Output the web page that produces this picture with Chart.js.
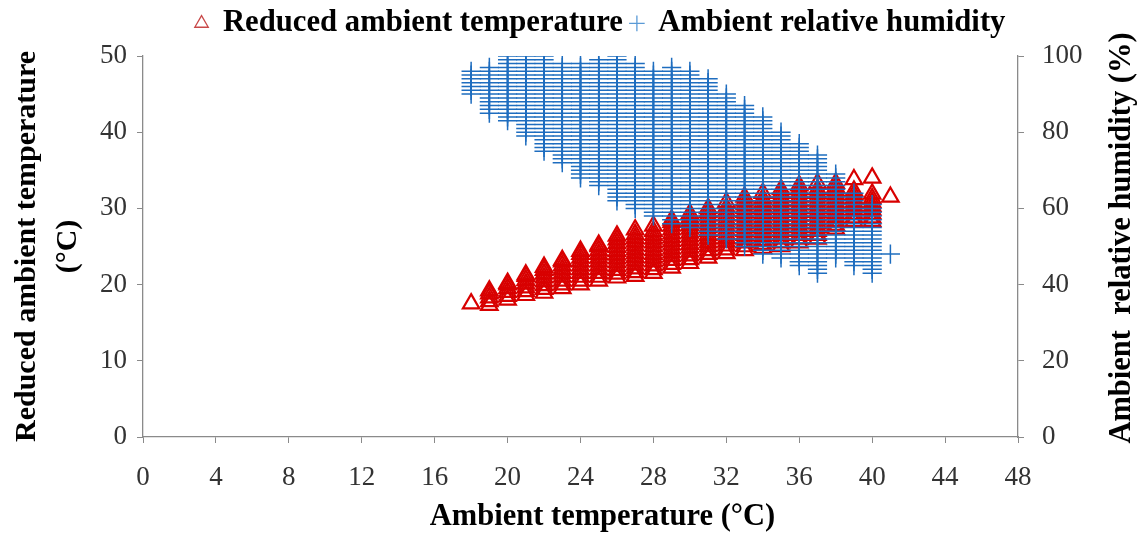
<!DOCTYPE html>
<html>
<head>
<meta charset="utf-8">
<script src="https://cdn.jsdelivr.net/npm/chart.js@4.4.1/dist/chart.umd.min.js"></script>
<style>
  html, body { margin: 0; padding: 0; background: #ffffff; }
  #wrap { position: relative; width: 1141px; height: 535px; }
</style>
</head>
<body>
<div id="wrap"><canvas id="c" width="1141" height="535"></canvas></div>
<script>
// ---------- DATA ----------
const ambientTemps = [18,19,20,21,22,23,24,25,26,27,28,29,30,31,32,33,34,35,36,37,38,39,40,41];

// Reduced ambient temperature (°C), one list per ambient temperature column
const reducedTemp = [
  [17.5],
  [17.3,17.8,18.3,18.8,19.2],
  [18,18.5,19,19.5,20,20.2],
  [18.6,19.1,19.6,20.1,20.6,21.1,21.3],
  [18.9,19.4,19.9,20.4,20.9,21.4,21.9,22.3],
  [19.5,20,20.5,21,21.5,22,22.5,23,23.2],
  [20,20.5,21,21.5,22,22.5,23,23.5,24,24.4],
  [20.5,21,21.5,22,22.5,23,23.5,24,24.5,25,25.2],
  [20.9,21.4,21.9,22.4,22.9,23.4,23.9,24.4,24.9,25.4,25.9,26.4],
  [21.1,21.6,22.1,22.6,23.1,23.6,24.1,24.6,25.1,25.6,26.1,26.6,27.2],
  [21.5,22,22.5,23,23.5,24,24.5,25,25.5,26,26.5,27,27.7],
  [22.2,22.7,23.2,23.7,24.2,24.7,25.2,25.7,26.2,26.7,27.2,27.7,28.2,28.5],
  [22.8,23.3,23.8,24.3,24.8,25.3,25.8,26.3,26.8,27.3,27.8,28.3,28.8,29.3],
  [23.5,24,24.5,25,25.5,26,26.5,27,27.5,28,28.5,29,29.5,30],
  [24.1,24.6,25.1,25.6,26.1,26.6,27.1,27.6,28.1,28.6,29.1,29.6,30.1,30.8],
  [24.5,25,25.5,26,26.5,27,27.5,28,28.5,29,29.5,30,30.5,31,31.5],
  [24.8,25.3,25.8,26.3,26.8,27.3,27.8,28.3,28.8,29.3,29.8,30.3,30.8,31.3,32],
  [25,25.5,26,26.5,27,27.5,28,28.5,29,29.5,30,30.5,31,31.5,32,32.5],
  [25.5,26,26.5,27,27.5,28,28.5,29,29.5,30,30.5,31,31.5,32,32.5,33],
  [26,26.5,27,27.5,28,28.5,29,29.5,30,30.5,31,31.5,32,32.5,33.3],
  [27.3,27.8,28.3,28.8,29.3,29.8,30.3,30.8,31.3,31.8,32.3,32.8,33.3],
  [28.3,28.8,29.3,29.8,30.3,30.8,31.3,31.8,32.3,33.8],
  [28.3,28.8,29.3,29.8,30.3,30.8,31.3,31.9,34],
  [31.5]
];

// Ambient relative humidity (%), one list per ambient temperature column
const relHumidity = [
  [90,91,92,93,94,95,96],
  [85,86,87,88,89,90,91,92,93,94,95,96,97],
  [83,84,85,86,87,88,89,90,91,92,93,94,95,96,97,98,99,100],
  [79,80,81,82,83,84,85,86,87,88,89,90,91,92,93,94,95,96,97,98,99,100],
  [75,76,77,78,79,80,81,82,83,84,85,86,87,88,89,90,91,92,93,94,95,96,97,98,99,100],
  [72,73,74,75,76,77,78,79,80,81,82,83,84,85,86,87,88,89,90,91,92,93,94,95,96,97,98],
  [68,69,70,71,72,73,74,75,76,77,78,79,80,81,82,83,84,85,86,87,88,89,90,91,92,93,94,95,96,97,98],
  [66,67,68,69,70,71,72,73,74,75,76,77,78,79,80,81,82,83,84,85,86,87,88,89,90,91,92,93,94,95,96,97,98,99],
  [62,63,64,65,66,67,68,69,70,71,72,73,74,75,76,77,78,79,80,81,82,83,84,85,86,87,88,89,90,91,92,93,94,95,96,97,98,99,100],
  [60,61,62,63,64,65,66,67,68,69,70,71,72,73,74,75,76,77,78,79,80,81,82,83,84,85,86,87,88,89,90,91,92,93,94,95,96,97,98],
  [58,59,60,61,62,63,64,65,66,67,68,69,70,71,72,73,74,75,76,77,78,79,80,81,82,83,84,85,86,87,88,89,90,91,92,93,94,95,96],
  [56,57,58,59,60,61,62,63,64,65,66,67,68,69,70,71,72,73,74,75,76,77,78,79,80,81,82,83,84,85,86,87,88,89,90,91,92,93,94,95,96,97],
  [55,56,57,58,59,60,61,62,63,64,65,66,67,68,69,70,71,72,73,74,75,76,77,78,79,80,81,82,83,84,85,86,87,88,89,90,91,92,93,94,95,96],
  [53,54,55,56,57,58,59,60,61,62,63,64,65,66,67,68,69,70,71,72,73,74,75,76,77,78,79,80,81,82,83,84,85,86,87,88,89,90,91,92,93,94],
  [52,53,54,55,56,57,58,59,60,61,62,63,64,65,66,67,68,69,70,71,72,73,74,75,76,77,78,79,80,81,82,83,84,85,86,87,88,89,90],
  [50,51,52,53,54,55,56,57,58,59,60,61,62,63,64,65,66,67,68,69,70,71,72,73,74,75,76,77,78,79,80,81,82,83,84,85,86,87],
  [48,49,50,51,52,53,54,55,56,57,58,59,60,61,62,63,64,65,66,67,68,69,70,71,72,73,74,75,76,77,78,79,80,81,82,83,84],
  [47,48,49,50,51,52,53,54,55,56,57,58,59,60,61,62,63,64,65,66,67,68,69,70,71,72,73,74,75,76,77,78,79,80],
  [45,46,47,48,49,50,51,52,53,54,55,56,57,58,59,60,61,62,63,64,65,66,67,68,69,70,71,72,73,74,75,76,77],
  [43,44,45,46,47,48,49,50,51,52,53,54,55,56,57,58,59,60,61,62,63,64,65,66,67,68,69,70,71,72,73,74],
  [47,48,49,50,51,52,53,54,55,56,57,58,59,60,61,62,63,64,65,66,67,68,69],
  [45,46,47,48,49,50,51,52,53,54,55,56,57,58,59,60,61,62,63,64],
  [43,44,45,46,47,48,49,50,51,52,53,54,55,56,57,58,59,60,61],
  [48]
];

const xTicks = [0,4,8,12,16,20,24,28,32,36,40,44,48];
const leftTicks = [0,10,20,30,40,50];
const rightTicks = [0,20,40,60,80,100];

const seriesNames = ['Reduced ambient temperature', 'Ambient relative humidity'];
const xTitle = 'Ambient temperature (°C)';
const leftTitle = ['Reduced ambient temperature', '(°C)'];
const rightTitle = 'Ambient  relative humidity (%)';

// ---------- build points ----------
function toPoints(cols) {
  const pts = [];
  ambientTemps.forEach((x, i) => cols[i].forEach(v => pts.push({x: x, y: v})));
  return pts;
}

const SERIF = "'Liberation Serif', 'Times New Roman', serif";
const RED = '#d80000';
const BLUE = '#1e6dbf';

const titlesPlugin = {
  id: 'extraTitles',
  afterDraw(chart) {
    const ctx = chart.ctx;
    const area = chart.chartArea;
    // right axis title (reads bottom to top)
    ctx.save();
    ctx.translate(1122, 238);
    ctx.rotate(-Math.PI / 2);
    ctx.font = 'bold 30.5px ' + SERIF;
    ctx.fillStyle = '#000';
    ctx.textAlign = 'center';
    ctx.textBaseline = 'middle';
    ctx.fillText(rightTitle, 0, 0);
    ctx.restore();
    // x axis title
    ctx.save();
    ctx.font = 'bold 30.5px ' + SERIF;
    ctx.fillStyle = '#000';
    ctx.textAlign = 'center';
    ctx.textBaseline = 'middle';
    ctx.fillText(xTitle, (area.left + area.right) / 2 + 22, 517);
    ctx.restore();
  }
};

const legendPlugin = {
  id: 'legendTweak',
  beforeInit(chart) {
    const lg = chart.legend;
    if (lg && !lg._patched) {
      const origFit = lg.fit;
      lg.fit = function () { origFit.call(this); this.height = 56; };
      const origDraw = lg.draw;
      lg.draw = function () {
        const ctx = this.ctx;
        ctx.save();
        ctx.translate(30, 0);
        origDraw.call(this);
        ctx.restore();
      };
      lg._patched = true;
    }
  }
};

function setTicks(list) {
  return function (scale) {
    scale.ticks = list.map(v => ({value: v}));
  };
}

new Chart(document.getElementById('c'), {
  type: 'scatter',
  data: {
    datasets: [
      {
        label: seriesNames[0],
        data: toPoints(reducedTemp),
        yAxisID: 'y',
        order: 2,
        pointStyle: 'triangle',
        radius: 9.5,
        borderColor: RED,
        backgroundColor: 'rgba(0,0,0,0)',
        borderWidth: 2.2
      },
      {
        label: seriesNames[1],
        data: toPoints(relHumidity),
        yAxisID: 'y1',
        order: 1,
        pointStyle: 'cross',
        radius: 9.6,
        borderColor: BLUE,
        backgroundColor: BLUE,
        borderWidth: 1.5
      }
    ]
  },
  options: {
    responsive: false,
    animation: false,
    events: [],
    layout: { padding: 0 },
    plugins: {
      tooltip: { enabled: false },
      legend: {
        display: true,
        position: 'top',
        labels: {
          usePointStyle: true,
          boxWidth: 12,
          boxHeight: 11,
          padding: 8,
          color: '#000',
          font: { family: SERIF, size: 30.7, weight: 'bold' },
          generateLabels(chart) {
            return chart.data.datasets.map((ds, i) => ({
              text: ds.label,
              pointStyle: ds.pointStyle,
              fillStyle: 'rgba(0,0,0,0)',
              strokeStyle: i === 0 ? '#c84848' : '#5a9ad6',
              lineWidth: 1.3,
              fontColor: '#000',
              datasetIndex: i,
              hidden: false
            }));
          }
        }
      }
    },
    scales: {
      x: {
        type: 'linear',
        min: 0, max: 48,
        afterBuildTicks: setTicks(xTicks),
        afterFit(s) { s.height = 98; },
        border: { display: true, color: '#8a8a8a', width: 1.3 },
        grid: { drawOnChartArea: false, drawTicks: true, tickLength: 6, color: '#8a8a8a' },
        ticks: { color: '#333', padding: 19, font: { family: SERIF, size: 27 } },
        title: { display: false }
      },
      y: {
        type: 'linear',
        position: 'left',
        min: 0, max: 50,
        afterBuildTicks: setTicks(leftTicks),
        afterFit(s) { s.width = 143; },
        border: { display: true, color: '#8a8a8a', width: 1.3 },
        grid: { drawOnChartArea: false, drawTicks: true, tickLength: 6, color: '#8a8a8a' },
        ticks: { color: '#333', padding: 10, font: { family: SERIF, size: 27 } },
        title: { display: true, text: leftTitle, color: '#000', padding: { top: 7, bottom: 0 },
                 font: { family: SERIF, size: 30, weight: 'bold', lineHeight: 1.35 } }
      },
      y1: {
        type: 'linear',
        position: 'right',
        min: 0, max: 100,
        afterBuildTicks: setTicks(rightTicks),
        afterFit(s) { s.width = 123; },
        border: { display: true, color: '#8a8a8a', width: 1.3 },
        grid: { drawOnChartArea: false, drawTicks: true, tickLength: 6, color: '#8a8a8a' },
        ticks: { color: '#333', padding: 18, font: { family: SERIF, size: 27 } },
        title: { display: false }
      }
    }
  },
  plugins: [legendPlugin, titlesPlugin]
});
</script>
</body>
</html>
